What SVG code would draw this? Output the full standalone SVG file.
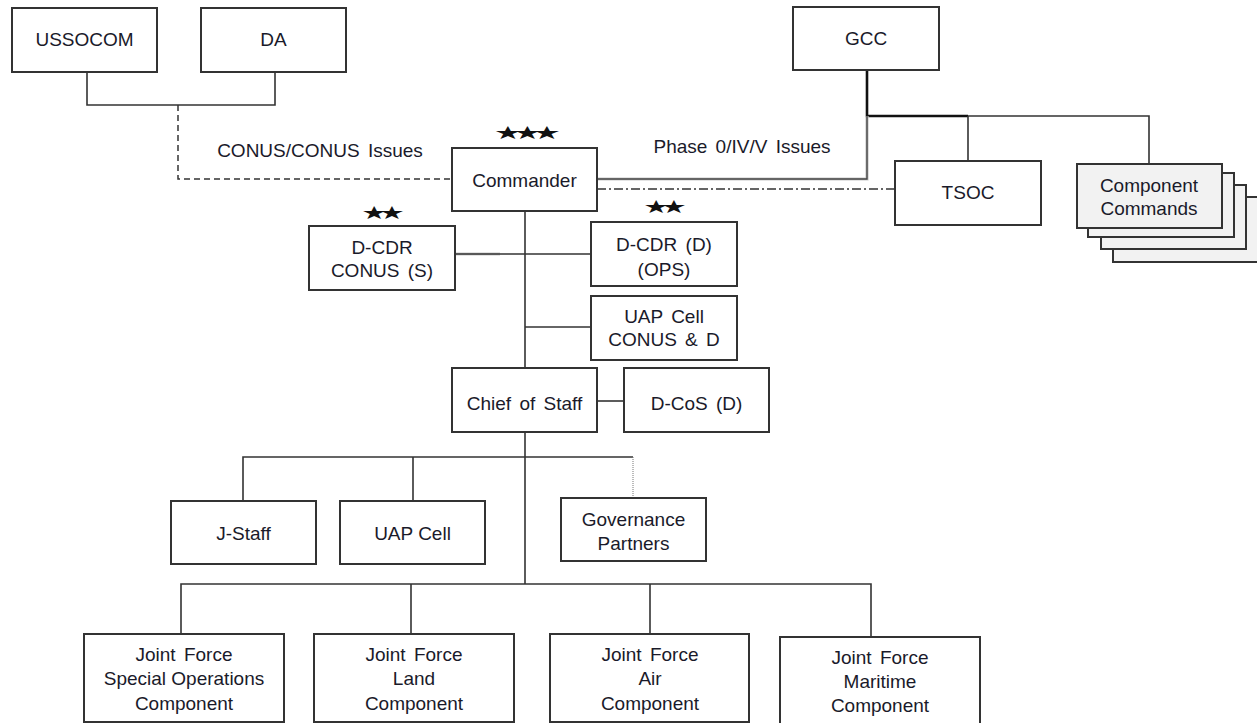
<svg xmlns="http://www.w3.org/2000/svg" width="1257" height="723" viewBox="0 0 1257 723">
<style>
.box{fill:#fff;stroke:#333;stroke-width:2}
.stack{fill:#f2f2f2;stroke:#333;stroke-width:2}
.t{font-family:"Liberation Sans",Arial,sans-serif;font-size:19px;fill:#1a1a2a;text-anchor:middle;word-spacing:3px}
.star{font-family:"DejaVu Sans",sans-serif;font-size:18px;fill:#111;text-anchor:middle;letter-spacing:-5px}
.ln{fill:none;stroke:#333;stroke-width:1.6}
.thick{fill:none;stroke:#111;stroke-width:2.6}
.dash{fill:none;stroke:#333;stroke-width:1.5;stroke-dasharray:6 4}
.dashdot{fill:none;stroke:#333;stroke-width:1.5;stroke-dasharray:9 3 2 3}
.dot{fill:none;stroke:#777;stroke-width:1;stroke-dasharray:1 1}
.halo{fill:none;stroke:#c8c8c8;stroke-width:3.2}
</style>
<rect width="1257" height="723" fill="#fff"/>
<g id="connectors">
  <path class="ln" d="M87 72V105H275V72"/>
  <path class="dash" d="M178 105V179H452"/>
  <path class="thick" d="M867 70V116H968"/>
  <path class="ln" d="M968 116H1149V164"/>
  <path class="ln" d="M968 116V161"/>
  <path class="halo" d="M597 179H867V116"/>
  <path class="ln" d="M597 179H867V116" style="stroke:#444;stroke-width:1.4"/>
  <path class="dashdot" d="M597 189H895"/>
  <path class="ln" d="M525 211V368"/>
  <path class="halo" d="M455 254H500" style="stroke-width:3"/>
  <path class="ln" d="M455 254H591"/>
  <path class="ln" d="M525 327H591"/>
  <path class="ln" d="M597 401H624"/>
  <path class="ln" d="M525 432V584"/>
  <path class="ln" d="M243 501V457H633"/>
  <path class="ln" d="M413 457V501"/>
  <path class="dot" d="M633 457V498"/>
  <path class="ln" d="M181 634V584H871V637"/>
  <path class="ln" d="M411 584V634"/>
  <path class="ln" d="M650 584V634"/>
</g>
<g id="labels">
  <text class="t" x="320" y="157">CONUS/CONUS Issues</text>
  <text class="t" x="742" y="153">Phase 0/IV/V Issues</text>
</g>
<g id="ussocom"><rect class="box" x="12" y="8" width="145" height="64"/><text class="t" x="84.5" y="46">USSOCOM</text></g>
<g id="da"><rect class="box" x="201" y="8" width="145" height="64"/><text class="t" x="273.5" y="46">DA</text></g>
<g id="gcc"><rect class="box" x="793" y="7" width="146" height="63"/><text class="t" x="866" y="45">GCC</text></g>
<g id="commander">
  <text class="star" transform="translate(523 139) scale(1.75 1)">★★★</text>
  <rect class="box" x="452" y="148" width="145" height="63"/><text class="t" x="524.5" y="187">Commander</text>
</g>
<g id="tsoc"><rect class="box" x="895" y="161" width="146" height="64"/><text class="t" x="968" y="199">TSOC</text></g>
<g id="component-commands">
  <rect class="stack" x="1113" y="197" width="150" height="65"/>
  <rect class="stack" x="1101" y="185" width="145" height="64"/>
  <rect class="stack" x="1088" y="173" width="146" height="64"/>
  <rect class="stack" x="1077" y="164" width="145" height="64"/>
  <text class="t" x="1149" y="192">Component</text>
  <text class="t" x="1149" y="215">Commands</text>
</g>
<g id="dcdr-conus">
  <text class="star" transform="translate(379 219) scale(1.6 1)">★★</text>
  <rect class="box" x="309" y="226" width="146" height="64"/>
  <text class="t" x="382" y="254">D-CDR</text><text class="t" x="382" y="277">CONUS (S)</text>
</g>
<g id="dcdr-d">
  <text class="star" transform="translate(661 213) scale(1.6 1)">★★</text>
  <rect class="box" x="591" y="222" width="146" height="64"/>
  <text class="t" x="664" y="251">D-CDR (D)</text><text class="t" x="664" y="276">(OPS)</text>
</g>
<g id="uap-cell-conus"><rect class="box" x="591" y="296" width="146" height="64"/>
  <text class="t" x="664" y="323">UAP Cell</text><text class="t" x="664" y="346">CONUS &amp; D</text></g>
<g id="chief-of-staff"><rect class="box" x="452" y="368" width="145" height="64"/><text class="t" x="524.5" y="410">Chief of Staff</text></g>
<g id="dcos"><rect class="box" x="624" y="368" width="145" height="64"/><text class="t" x="696.5" y="410">D-CoS (D)</text></g>
<g id="j-staff"><rect class="box" x="171" y="501" width="145" height="63"/><text class="t" x="243.5" y="540">J-Staff</text></g>
<g id="uap-cell"><rect class="box" x="340" y="501" width="145" height="63"/><text class="t" x="412.5" y="540" style="word-spacing:0">UAP Cell</text></g>
<g id="governance"><rect class="box" x="561" y="498" width="145" height="63"/>
  <text class="t" x="633.5" y="526">Governance</text><text class="t" x="633.5" y="550">Partners</text></g>
<g id="jfsoc"><rect class="box" x="84" y="634" width="200" height="88"/>
  <text class="t" x="184" y="661">Joint Force</text><text class="t" x="184" y="685" style="word-spacing:0">Special Operations</text><text class="t" x="184" y="710">Component</text></g>
<g id="jfland"><rect class="box" x="314" y="634" width="200" height="88"/>
  <text class="t" x="414" y="661">Joint Force</text><text class="t" x="414" y="685">Land</text><text class="t" x="414" y="710">Component</text></g>
<g id="jfair"><rect class="box" x="550" y="634" width="199" height="88"/>
  <text class="t" x="650" y="661">Joint Force</text><text class="t" x="650" y="685">Air</text><text class="t" x="650" y="710">Component</text></g>
<g id="jfmaritime"><rect class="box" x="780" y="637" width="200" height="88"/>
  <text class="t" x="880" y="664">Joint Force</text><text class="t" x="880" y="688">Maritime</text><text class="t" x="880" y="712">Component</text></g>
</svg>
